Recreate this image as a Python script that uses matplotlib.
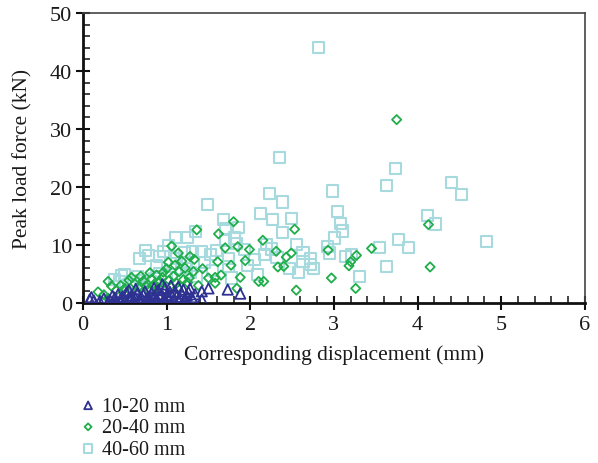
import matplotlib
matplotlib.use("Agg")
import matplotlib.pyplot as plt
from matplotlib.ticker import MultipleLocator

# 10-20 mm (triangles)
tri_x = [0.08,0.10,0.13,0.25,0.30,0.32,0.35,0.38,0.40,0.42,0.45,0.47,0.50,0.52,0.55,0.57,0.58,0.60,0.62,0.65,
         0.67,0.70,0.72,0.74,0.76,0.78,0.80,0.82,0.84,0.86,0.88,0.90,0.92,0.94,0.96,0.98,1.00,1.02,1.04,1.06,
         1.08,1.10,1.12,1.14,1.16,1.18,1.20,1.22,1.24,1.26,1.28,1.30,1.34,1.42,1.42,1.50,1.73,1.88,0.95,1.05,
         0.45,0.35,0.68,0.88,1.15,0.55,0.63,0.85,1.25,0.20]
tri_y = [0.6,1.0,0.4,0.8,0.2,0.5,1.2,0.9,0.3,1.5,0.7,1.1,0.4,1.8,0.9,0.6,1.3,0.2,1.0,1.6,
         0.5,0.9,1.4,2.0,0.7,1.1,0.3,1.7,0.9,1.3,0.6,2.2,1.0,1.5,0.4,2.6,1.2,0.8,1.9,1.4,
         0.5,2.0,1.1,2.8,0.9,1.6,2.3,0.7,1.3,1.9,2.5,1.0,1.5,2.0,0.6,2.5,2.3,1.6,3.2,3.0,
         0.1,0.0,0.2,0.1,0.3,2.2,2.4,2.6,0.2,0.3]

# 20-40 mm (diamonds)
dia_x = [0.18,0.30,0.34,0.30,0.25,0.40,0.45,0.50,0.55,0.58,0.62,0.66,0.69,0.72,0.75,0.80,0.82,0.85,0.88,0.90,
         0.92,0.95,1.00,1.03,1.06,1.08,1.10,1.12,1.15,1.18,1.20,1.22,1.25,1.27,1.32,1.33,1.36,1.43,1.50,1.58,
         1.58,1.61,1.62,1.65,1.70,1.77,1.80,1.84,1.85,1.88,1.94,1.99,2.10,2.16,2.15,2.31,2.33,2.40,2.43,2.49,
         2.53,2.55,2.93,2.97,3.18,3.20,3.26,3.27,3.45,3.75,4.13,4.15,0.65,0.78,0.98,1.13,1.38,0.52,0.86,1.02,
         1.28,0.96,1.14]
dia_y = [1.9,3.7,2.9,0.8,1.4,2.2,3.0,2.5,3.9,4.4,3.3,2.7,4.6,3.8,2.9,5.2,4.1,3.2,4.8,2.6,
         3.6,4.4,5.9,3.9,9.8,4.6,6.5,3.4,5.4,7.2,4.0,6.0,3.5,4.3,5.4,7.5,12.6,5.9,4.3,4.4,
         3.4,7.1,11.9,4.8,9.5,6.5,14.0,2.5,9.7,4.4,7.3,9.2,3.7,3.7,10.8,8.9,6.2,6.3,7.9,8.6,
         12.7,2.2,9.1,4.3,6.4,7.1,2.5,8.2,9.4,31.6,13.5,6.2,1.8,2.2,2.1,2.6,3.0,1.2,1.6,7.0,
         8.0,5.3,8.6]

# 40-60 mm (squares)
sq_x = [2.82,3.74,2.35,2.98,3.63,4.41,4.53,2.23,2.39,1.49,2.12,2.27,2.49,1.68,3.04,3.08,3.10,3.01,2.92,2.95,
        3.14,3.21,2.63,2.63,2.72,2.72,2.76,3.31,3.55,3.77,3.89,3.63,4.12,4.21,4.82,2.39,1.70,1.86,1.81,1.84,
        1.70,2.19,2.17,2.05,2.32,2.47,2.09,1.74,1.74,1.78,1.42,1.31,1.23,1.24,1.36,1.25,1.34,1.11,1.02,0.75,
        0.78,0.68,0.91,0.96,1.21,0.46,0.44,0.38,0.60,0.81,0.50,0.55,0.65,0.70,0.85,0.92,1.00,1.05,1.12,1.18,
        1.28,0.88,1.45,1.52,1.60,1.93,1.97,2.25,2.55,2.58,1.55]
sq_y = [44.1,23.1,25.0,19.3,20.3,20.8,18.7,18.8,17.4,16.9,15.4,14.4,14.6,14.4,15.7,13.7,12.4,11.2,9.7,8.6,
        8.0,8.4,8.6,7.2,7.6,6.7,5.9,4.6,9.5,10.9,9.5,6.3,15.1,13.6,10.6,12.2,12.8,13.0,11.2,10.2,
        10.8,10.1,8.4,7.5,7.8,5.9,4.9,7.6,6.3,4.3,8.8,8.8,7.0,5.9,4.6,11.3,12.3,11.3,9.9,9.0,
        8.2,7.7,8.0,8.8,8.7,4.7,3.7,4.1,3.6,3.7,4.9,3.2,4.5,3.9,4.2,5.0,4.4,6.8,7.6,6.0,
        5.3,6.4,6.9,8.3,9.1,9.2,6.4,9.3,10.0,5.3,5.6]

labels = ["10-20 mm", "20-40 mm", "40-60 mm"]
x_ticks = [0, 1, 2, 3, 4, 5, 6]
y_ticks = [0, 10, 20, 30, 40, 50]

plt.rcParams['font.family'] = ['Liberation Serif', 'DejaVu Serif']

fig = plt.figure(figsize=(5.98, 4.64), dpi=100)
ax = fig.add_axes([0.1388, 0.345, 0.978 - 0.1388, 0.970 - 0.345])

c_sq = '#a6dade'
c_dia = '#1fae4a'
c_tri = '#2e3192'

ax.scatter(sq_x, sq_y, marker='s', s=64, facecolors='none', edgecolors=c_sq, linewidths=1.5,
           label=labels[2], zorder=2)
ax.scatter(dia_x, dia_y, marker='D', s=22, facecolors='none', edgecolors=c_dia, linewidths=1.3,
           label=labels[1], zorder=3)
ax.scatter(tri_x, tri_y, marker='^', s=55, facecolors='none', edgecolors=c_tri, linewidths=1.3,
           label=labels[0], zorder=4)

ax.set_xlim(0, 6)
ax.set_ylim(0, 50)
ax.set_xticks(x_ticks)
ax.set_yticks(y_ticks)
ax.xaxis.set_minor_locator(MultipleLocator(0.2))
ax.yaxis.set_minor_locator(MultipleLocator(2))
ax.tick_params(which='major', direction='inout', length=10, width=1.5, labelsize=16,
               colors='#111111', labelcolor='#1a1a1a')
ax.tick_params(which='minor', direction='in', length=5, width=1.2, colors='#222222')
ax.tick_params(axis='x', which='major', pad=4)
ax.tick_params(axis='y', which='major', pad=3)

for s in ['left', 'bottom']:
    ax.spines[s].set_linewidth(2)
    ax.spines[s].set_color('#111111')
for s in ['top', 'right']:
    ax.spines[s].set_linewidth(1.2)
    ax.spines[s].set_color('#444444')

ax.set_xlabel("Corresponding displacement (mm)", fontsize=15.5, color='#1a1a1a', labelpad=7)
ax.set_ylabel("Peak load force (kN)", fontsize=15.5, color='#1a1a1a', labelpad=12)

h, l = ax.get_legend_handles_labels()
order = [2, 1, 0]
fig.legend([h[i] for i in order], [l[i] for i in order], loc='upper left',
           bbox_to_anchor=(0.117, 0.165), frameon=False, fontsize=14.5,
           handletextpad=0.3, handlelength=0.8, labelspacing=0.12, borderpad=0,
           markerscale=0.75, labelcolor='#1a1a1a')

fig.savefig("out.png", dpi=100)
